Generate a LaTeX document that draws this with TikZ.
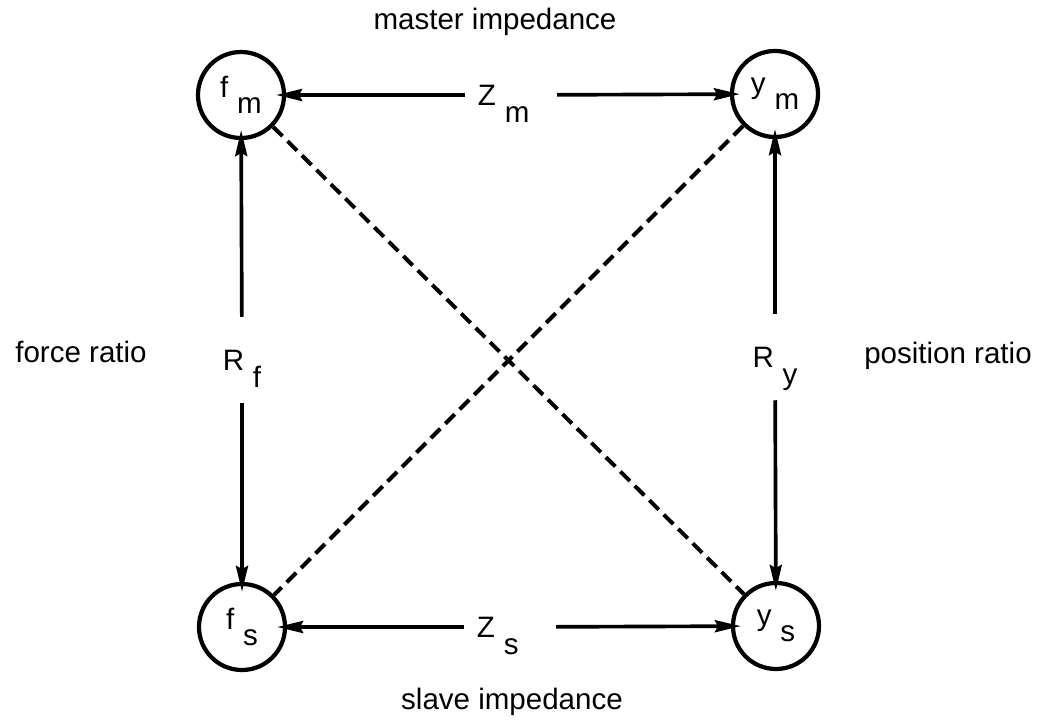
\documentclass[tikz,border=0pt]{standalone}
\usepackage{fontspec}
\setmainfont{Liberation Sans}
\usetikzlibrary{arrows.meta,positioning}

\newcommand{\lowsub}[1]{\hspace{0.3em}\raisebox{-0.55em}{#1}}
\newcommand{\lowsubs}[1]{\hspace{0.3em}\smash{\raisebox{-0.6em}{#1}}}

\begin{document}
\begin{tikzpicture}[x=0.025cm, y=-0.025cm, font=\fontsize{21}{25}\selectfont,
  var/.style={circle, draw, line width=3pt, minimum size=2.15cm, inner sep=0pt},
  link/.style={line width=2.6pt, -{Stealth[length=6.5mm, width=3mm, inset=0.8mm]}, shorten >=-2.5mm},
  cross/.style={line width=2.8pt, dash pattern=on 9.5pt off 5pt},
  gain/.style={inner xsep=0.32cm, inner ysep=0.1cm, text width=1.65cm, align=left},
  ratio/.style={inner xsep=0pt, inner ysep=0.82cm}]
  \useasboundingbox (0,0) rectangle (1044,722);

  % the four signals
  \node[var] (fm) at (241,95) {f\lowsub{m}};
  \node[var] (ym) at (775,94) {y\lowsub{m}};
  \node[var] (fs) at (242,627) {f\lowsub{s}};
  \node[var] (ys) at (776,626) {y\lowsub{s}};

  % impedances, top and bottom
  \node[gain] (Zm) at (511,95) {Z\lowsubs{m}};
  \node[gain] (Zs) at (510,627) {Z\lowsubs{s}};
  \draw[link] (Zm) -- (fm);
  \draw[link] (Zm) -- (ym);
  \draw[link] (Zs) -- (fs);
  \draw[link] (Zs) -- (ys);

  % ratios, left and right
  \node[ratio] (Rf) at (242,360) {R\lowsubs{f}};
  \node[ratio] (Ry) at (775,357) {R\lowsubs{y}};
  \draw[link] (Rf) -- (fm);
  \draw[link] (Rf) -- (fs);
  \draw[link] (Ry) -- (ym);
  \draw[link] (Ry) -- (ys);

  % cross couplings
  \draw[cross] (fm) -- (ys);
  \draw[cross] (ym) -- (fs);

  % names
  \node (master) at (495,22) {master impedance};
  \node (slave) at (512,702) {slave impedance};
  \node (force) at (81,352) {force ratio};
  \node (position) at (948,356) {position ratio};
\end{tikzpicture}
\end{document}
